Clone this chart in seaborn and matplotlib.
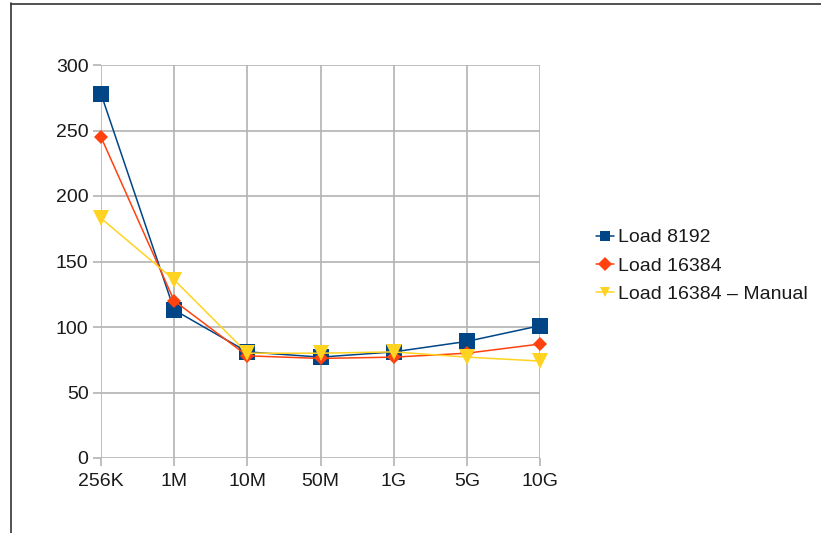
import matplotlib
matplotlib.use("Agg")
import matplotlib.pyplot as plt
from matplotlib.lines import Line2D
import seaborn as sns
import pandas as pd

categories = ["256K", "1M", "10M", "50M", "1G", "5G", "10G"]
load_8192 = [278, 113, 81, 77, 81, 89, 101]
load_16384 = [245, 120, 78, 76, 77, 80, 87]
load_16384_manual = [183, 136, 80, 80, 81, 77, 74]
series_names = ["Load 8192", "Load 16384", "Load 16384 \u2013 Manual"]
y_ticks = [0, 50, 100, 150, 200, 250, 300]

sns.set_theme(style="white")
plt.rcParams['font.family'] = ['Liberation Sans', 'DejaVu Sans']

colors = ["#004586", "#ff420e", "#ffd320"]
markers = ["s", "D", "v"]
msizes = [11, 7, 11]

fig = plt.figure(figsize=(8.21, 5.33), dpi=100)
ax = fig.add_axes([101/821, 1 - 458/533, (540 - 101)/821, (458 - 65)/533])

for i, (name, vals, c, m, ms) in enumerate(zip(series_names,
                                               [load_8192, load_16384, load_16384_manual],
                                               colors, markers, msizes)):
    df = pd.DataFrame({"cat": categories, "val": vals})
    sns.lineplot(data=df, x="cat", y="val", ax=ax, color=c, marker=m, markersize=ms,
                 markeredgewidth=0, linewidth=1.1, sort=False, label=name,
                 clip_on=False, zorder=3 + i)

ax.set_xlim(0, len(categories) - 1)
ax.set_ylim(0, 300)
ax.set_yticks(y_ticks)
ax.set_xticks(range(len(categories)))
ax.set_xticklabels(categories)
ax.set_xlabel("")
ax.set_ylabel("")
ax.grid(True, color="#b3b3b3", linewidth=1.2)
ax.set_axisbelow(True)
for s in ax.spines.values():
    s.set_visible(False)
ax.tick_params(axis="both", which="both", length=6, width=1.2, color="#b3b3b3",
               labelsize=14, labelcolor="#1a1a1a", direction="out", pad=3)
ax.tick_params(axis="x", pad=5)
ax.xaxis.set_ticks_position("bottom")
ax.yaxis.set_ticks_position("left")

handles, labels = ax.get_legend_handles_labels()
leg = ax.legend(handles, labels, loc="center left", bbox_to_anchor=(586/821, 1 - 266/533),
                bbox_transform=fig.transFigure, frameon=False, fontsize=14,
                handlelength=0.95, handletextpad=0.2, labelspacing=0.55, borderpad=0)
for t in leg.get_texts():
    t.set_color("#1a1a1a")
for h in leg.legend_handles:
    h.set_markersize(7)

# outer frame lines (left and top)
fig.add_artist(Line2D([10.5/821, 10.5/821], [0, 1 - 3/533], transform=fig.transFigure,
                      color="#333333", linewidth=1.2))
fig.add_artist(Line2D([10.5/821, 1], [1 - 3.5/533, 1 - 3.5/533], transform=fig.transFigure,
                      color="#333333", linewidth=1.2))

fig.savefig("out.png", dpi=100)
